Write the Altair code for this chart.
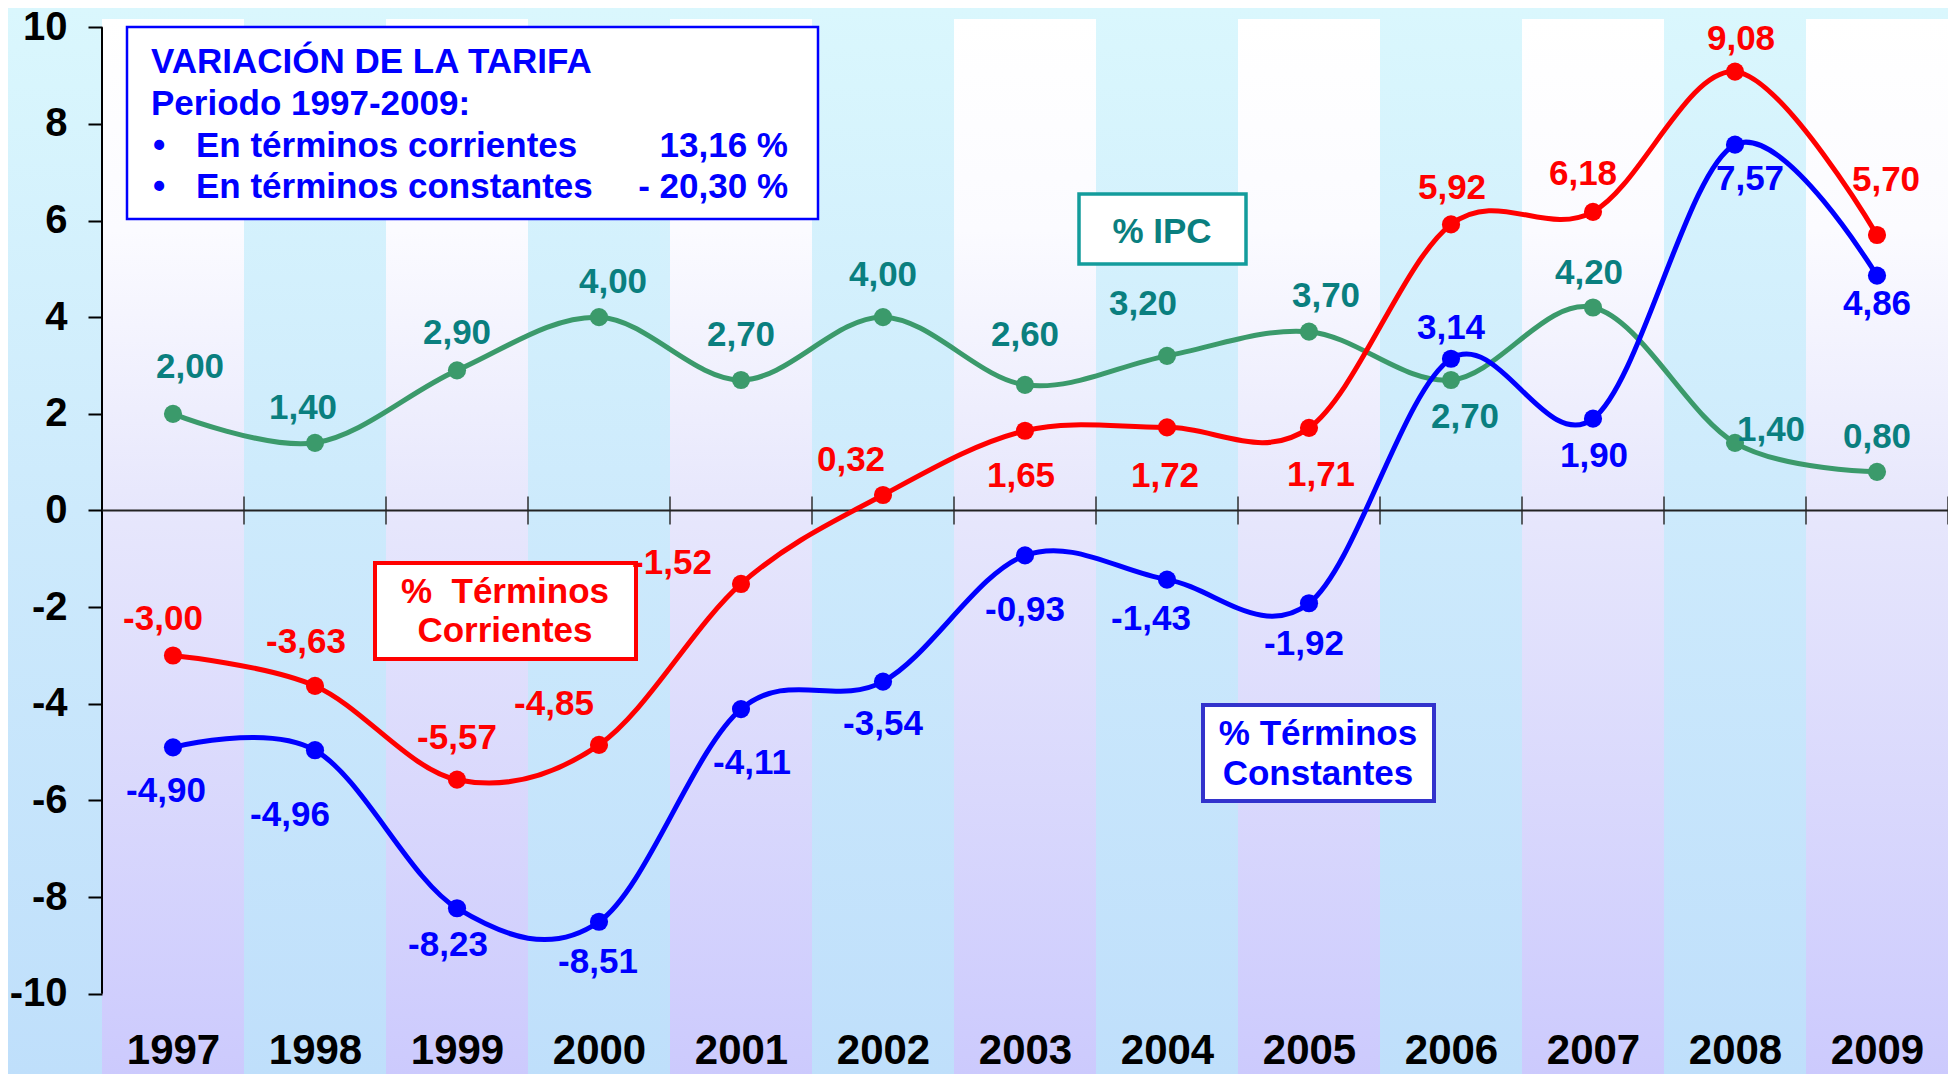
import altair as alt
import pandas as pd

# ---------------- data ----------------
YEARS = [1997, 1998, 1999, 2000, 2001, 2002, 2003, 2004, 2005, 2006, 2007, 2008, 2009]
CORRIENTES = [-3.00, -3.63, -5.57, -4.85, -1.52, 0.32, 1.65, 1.72, 1.71, 5.92, 6.18, 9.08, 5.70]
CONSTANTES = [-4.90, -4.96, -8.23, -8.51, -4.11, -3.54, -0.93, -1.43, -1.92, 3.14, 1.90, 7.57, 4.86]
IPC = [2.00, 1.40, 2.90, 4.00, 2.70, 4.00, 2.60, 3.20, 3.70, 2.70, 4.20, 1.40, 0.80]
Y_TICKS = [-10, -8, -6, -4, -2, 0, 2, 4, 6, 8, 10]

# label placement offsets (pixels, dx / dy relative to the point)
OFF_CORR = [(-10, -36), (-9, -44), (0, -42), (-45, -41), (-69, -21), (-32, -35), (-4, 45),
            (-2, 49), (12, 47), (1, -36), (-10, -38), (6, -33), (9, -55)]
OFF_CONS = [(-7, 44), (-25, 65), (-9, 37), (-1, 40), (11, 54), (0, 42), (0, 55),
            (-16, 39), (-5, 41), (0, -31), (1, 37), (15, 34), (0, 28)]
OFF_IPC = [(17, -47), (-12, -35), (0, -37), (14, -35), (0, -45), (0, -42), (0, -50),
           (-24, -52), (17, -36), (14, 37), (-4, -35), (36, -13), (0, -35)]

# ---------------- layout / style ----------------
FONT = "Liberation Sans, Arial, Helvetica, sans-serif"
W, H = 1846, 1055
PAD_L, PAD_T = 94, 11
YMIN, YMAX = -11.66, 10.17
X0, X1 = 1996.5, 2009.5
PX_X = W / (X1 - X0)
PX_Y = H / (YMAX - YMIN)

RED, BLUE, GREEN, TEAL = "#ff0000", "#0000ff", "#3b9a6b", "#0a7f7f"

xs = alt.Scale(domain=[X0, X1], nice=False, zero=False)
ys = alt.Scale(domain=[YMIN, YMAX], nice=False, zero=False)

x_axis = alt.Axis(values=YEARS, labelExpr="datum.value + ''", domain=False, ticks=False,
                  tickSize=0, grid=False, labelFontSize=42, labelFont=FONT,
                  labelFontWeight="bold", labelColor="black", labelBaseline="alphabetic",
                  labelPadding=-11, zindex=1, title=None, labelFlush=False,
                  labelOverlap=False, labelBound=False)
y_axis = alt.Axis(values=Y_TICKS, labelExpr="datum.value + ''", domain=False, ticks=True,
                  tickSize=14, tickWidth=2, tickColor="black", grid=False,
                  labelFontSize=40, labelFont=FONT, labelFontWeight="bold",
                  labelColor="black", labelPadding=21, zindex=1, title=None,
                  labelFlush=False, labelOverlap=False)


def XE(field="x"):
    return alt.X(f"{field}:Q", scale=xs, axis=x_axis, title=None)


def YE(field="y"):
    return alt.Y(f"{field}:Q", scale=ys, axis=y_axis, title=None)


def grad(stops):
    return alt.LinearGradient(gradient="linear",
                              stops=[alt.GradientStop(color=c, offset=o) for o, c in stops],
                              x1=0, x2=0, y1=0, y2=1)


one = pd.DataFrame({"k": [0]})
layers = []

# background of whole chart
layers.append(alt.Chart(one).mark_rect(
    color=grad([(0, "#daf7fd"), (0.47, "#cdeafc"), (1, "#bfdffb")])
).encode(x=alt.value(-PAD_L), x2=alt.value(W + 4), y=alt.value(-PAD_T), y2=alt.value(H + 2)))

# alternating column bands
band_years = YEARS[::2]
bands = pd.DataFrame({"x": [y - 0.5 for y in band_years], "x2": [y + 0.5 for y in band_years]})
layers.append(alt.Chart(bands).mark_rect(
    color=grad([(0, "#ffffff"), (0.2, "#fbfbff"), (0.46, "#e7e7fc"), (1, "#cccafd")])
).encode(x=XE(), x2="x2:Q", y=alt.value(0), y2=alt.value(H)))

# y axis line (from -10 to 10)
layers.append(alt.Chart(pd.DataFrame({"x": [X0], "y": [min(Y_TICKS)], "y2": [max(Y_TICKS)]}))
              .mark_rule(color="black", strokeWidth=2)
              .encode(x=XE(), y=YE(), y2="y2:Q"))
# zero line
layers.append(alt.Chart(pd.DataFrame({"x": [X0], "x2": [X1], "y": [0]}))
              .mark_rule(color="#222222", strokeWidth=2)
              .encode(x=XE(), x2="x2:Q", y=YE()))
# category boundary ticks on the zero line
bounds = pd.DataFrame({"x": [y + 0.5 for y in YEARS], "y": [0] * len(YEARS)})
layers.append(alt.Chart(bounds).mark_tick(orient="vertical", size=28, thickness=2, color="#222222")
              .encode(x=XE(), y=YE()))

series = [
    ("ipc", IPC, GREEN, TEAL, OFF_IPC),
    ("corr", CORRIENTES, RED, RED, OFF_CORR),
    ("cons", CONSTANTES, BLUE, BLUE, OFF_CONS),
]

for name, vals, lc, tc, offs in series:
    df = pd.DataFrame({"x": YEARS, "y": vals})
    layers.append(alt.Chart(df).mark_line(color=lc, strokeWidth=5, interpolate="cardinal")
                  .encode(x=XE(), y=YE()))
for name, vals, lc, tc, offs in series:
    df = pd.DataFrame({"x": YEARS, "y": vals})
    layers.append(alt.Chart(df).mark_circle(color=lc, size=330, opacity=1)
                  .encode(x=XE(), y=YE()))

# annotation boxes (plot pixel coordinates)
BOXES = [
    (25, 8, 716, 200, "#0000ff", 2.5),
    (273, 544, 534, 640, "#ff0000", 4),
    (1101, 686, 1332, 782, "#3333cc", 4),
    (977, 175, 1144, 245, "#139c9c", 3.5),
]
for bx, by, bx2, by2, sc, sw in BOXES:
    layers.append(alt.Chart(one).mark_rect(fill="white", stroke=sc, strokeWidth=sw)
                  .encode(x=alt.value(bx), x2=alt.value(bx2), y=alt.value(by), y2=alt.value(by2)))

BOX_TEXTS = [
    ("VARIACIÓN DE LA TARIFA", 49, 54, "left", BLUE),
    ("Periodo 1997-2009:", 49, 96, "left", BLUE),
    ("•", 51, 138, "left", BLUE),
    ("En términos corrientes", 94, 138, "left", BLUE),
    ("13,16 %", 686, 138, "right", BLUE),
    ("•", 51, 179, "left", BLUE),
    ("En términos constantes", 94, 179, "left", BLUE),
    ("- 20,30 %", 686, 179, "right", BLUE),
    ("%\u00a0 Términos", 403, 584, "center", RED),
    ("Corrientes", 403, 623, "center", RED),
    ("% Términos", 1216, 726, "center", BLUE),
    ("Constantes", 1216, 766, "center", BLUE),
    ("% IPC", 1060, 224, "center", TEAL),
]
for txt, tx, ty, al, col in BOX_TEXTS:
    layers.append(alt.Chart(one).mark_text(text=txt, align=al, baseline="alphabetic",
                                           font=FONT, fontSize=35, fontWeight="bold", color=col)
                  .encode(x=alt.value(tx), y=alt.value(ty)))

# value labels
for name, vals, lc, tc, offs in series:
    df = pd.DataFrame({
        "x": [yr + dx / PX_X for yr, (dx, dy) in zip(YEARS, offs)],
        "y": [v - dy / PX_Y for v, (dx, dy) in zip(vals, offs)],
        "t": [f"{v:.2f}".replace(".", ",") for v in vals],
    })
    layers.append(alt.Chart(df).mark_text(align="center", baseline="middle", font=FONT,
                                          fontSize=35, fontWeight="bold", color=tc)
                  .encode(x=XE(), y=YE(), text="t:N"))

chart = alt.layer(*layers).properties(
    width=W, height=H, autosize="none",
    padding={"left": PAD_L, "top": PAD_T, "right": 0, "bottom": 0},
    background="#cdeafc",
).configure_view(stroke=None)

chart.save("out.html", embed_options={"renderer": "svg", "actions": False})
